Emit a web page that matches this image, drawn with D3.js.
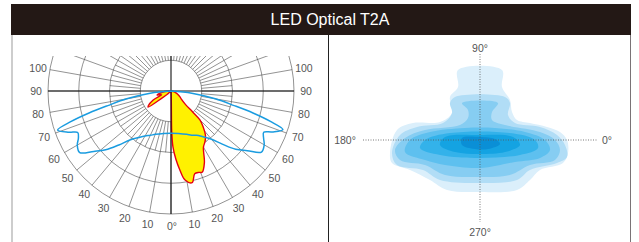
<!DOCTYPE html>
<html>
<head>
<meta charset="utf-8">
<script src="https://cdn.jsdelivr.net/npm/d3@7"></script>
<style>
body { margin: 0; background: #fff; }
svg { display: block; font-family: "Liberation Sans", Arial, sans-serif; }
</style>
</head>
<body>
<div id="wrapper"></div>
<script>
const title = "LED Optical T2A"

// polar curve, C0-C180 plane (blue) - angle from nadir (deg), intensity
const blueAngles = [-90, -84, -80, -77, -75, -73, -71, -68, -66, -63, -60, -56, -52, -48, -44, -40, -35, -30, -25, -20, -10, 0,
                    10, 20, 25, 30, 35, 40, 44, 48, 52, 56, 60, 63, 66, 68, 71, 73, 75, 77, 80, 84, 90]
const blueValues = [0, 68, 146, 211, 276, 341, 390, 358, 332, 338, 352, 358, 319, 286, 244, 208, 185, 169, 159, 150, 140, 137,
                    140, 150, 159, 166, 182, 205, 240, 283, 315, 355, 350, 338, 330, 355, 385, 338, 276, 211, 146, 68, 0]

// polar curve, C90-C270 plane (red outline, yellow fill)
const redAngles = [-90, -85, -80, -74, -68, -63, -57, -55, -52, -48, -40, -20, -1, 1, 2, 4, 6.5, 9, 13, 16, 19, 21, 25, 30, 34, 38, 42, 45, 46, 47, 52, 56, 65, 75, 90]
const redValues = [0, 20, 33, 47, 33, 65, 88, 91, 36, 16, 3, 2, 3, 130, 182, 221, 260, 293, 306, 280, 280, 283, 257, 211, 198, 182, 156, 133, 98, 65, 42, 36, 23, 13, 0]

const ringValues = [100, 200, 300, 400]
const leftLabels = [100, 90, 80, 70, 60, 50, 40, 30, 20, 10]

// isolux plot (right panel): nested contour polygons, outer to inner
const isoColors = ["#dbeffb", "#b1ddf6", "#86cdf2", "#5ec0ef", "#33b2ea", "#14a3e2", "#0a8fd6"]
const isoContours = [
    [[-22,70],[22,70],[22,53],[30,40],[32,28],[37,20],[50,17],[67,13],[80,8],[87,0],[88,-13],[83,-23],[60,-30],[50,-40],[37,-50],[0,-52],[-33,-50],[-50,-40],[-70,-30],[-88,-23],[-90,-13],[-83,10],[-67,17],[-40,18],[-28,27],[-30,43],[-22,53]],
    [[-25,43],[25,43],[30,37],[28,25],[35,17],[60,13],[77,5],[85,-5],[87,-17],[77,-23],[50,-30],[37,-40],[0,-43],[-40,-40],[-57,-30],[-83,-25],[-88,-13],[-80,5],[-63,13],[-37,17],[-28,27],[-30,37]],
    [[-18,37],[18,37],[12,28],[12,20],[25,15],[60,8],[75,0],[80,-10],[75,-20],[50,-25],[30,-35],[0,-37],[-35,-35],[-55,-25],[-80,-20],[-85,-10],[-75,2],[-55,10],[-20,15],[-12,22],[-12,30]],
    [[-15,12],[15,12],[45,8],[65,0],[70,-10],[60,-18],[35,-22],[0,-28],[-35,-25],[-55,-20],[-75,-12],[-70,0],[-50,8]],
    [[-30,7],[30,7],[55,0],[58,-8],[40,-15],[0,-18],[-40,-15],[-60,-8],[-55,0]],
    [[-35,3],[0,5],[33,3],[40,-5],[25,-12],[0,-14],[-25,-12],[-40,-5]],
    [[-18,2],[0,3],[15,1],[20,-4],[8,-9],[-5,-9],[-18,-5]]
]
const isoLabels = [
    {text: "90°", x: 0, y: 92},
    {text: "180°", x: -135, y: 0},
    {text: "0°", x: 127, y: 0},
    {text: "270°", x: 0, y: -92}
]

const width = 639
const height = 242

const svg = d3.select("#wrapper")
    .append("svg")
    .attr("width", width)
    .attr("height", height)

// header
svg.append("rect")
    .attr("x", 11).attr("y", 4)
    .attr("width", 620).attr("height", 31)
    .attr("fill", "#231815")
svg.append("text")
    .attr("x", 330).attr("y", 25)
    .attr("text-anchor", "middle")
    .attr("fill", "#fff")
    .attr("font-size", "16px")
    .text(title)

// panel borders
svg.append("line").attr("x1", 12).attr("x2", 12).attr("y1", 35).attr("y2", height)
    .attr("stroke", "#bdbdbd").attr("stroke-width", 1.5)
svg.append("line").attr("x1", 630.5).attr("x2", 630.5).attr("y1", 35).attr("y2", height)
    .attr("stroke", "#7a7376").attr("stroke-width", 1)
svg.append("line").attr("x1", 328.5).attr("x2", 328.5).attr("y1", 35).attr("y2", height)
    .attr("stroke", "#222").attr("stroke-width", 1)

// ---------- polar diagram ----------
const cx = 171, cy = 91
const rScale = d3.scaleLinear().domain([0, 400]).range([0, 123])
// angle from nadir, positive to the right -> d3 radial angle
const aScale = d3.scaleLinear().domain([-180, 180]).range([2 * Math.PI, 0])

const polar = svg.append("g").attr("transform", `translate(${cx},${cy})`)

svg.append("clipPath").attr("id", "gridClip")
    .append("rect").attr("x", -130).attr("y", 56 - cy).attr("width", 260).attr("height", 200)

const grid = polar.append("g").attr("clip-path", "url(#gridClip)")
    .attr("stroke", "#4a4a4a").attr("stroke-width", 0.6).attr("fill", "none")

grid.selectAll("circle")
    .data(ringValues)
    .join("circle")
    .attr("r", d => rScale(d))

const spoke = (a, r0, r1) => d3.lineRadial()([[aScale(a), rScale(r0)], [aScale(a), rScale(r1)]])
grid.selectAll(".fine")
    .data(d3.range(-180, 180, 5))
    .join("path")
    .attr("d", a => spoke(a, 100, 200))
grid.selectAll(".coarse")
    .data(d3.range(-180, 180, 10))
    .join("path")
    .attr("d", a => spoke(a, 200, 400))

const curve = (angles, values) => d3.lineRadial()
    .angle(i => aScale(angles[i]))
    .radius(i => rScale(values[i]))
    .curve(d3.curveCatmullRom)(d3.range(angles.length))

polar.append("path")
    .attr("d", curve(redAngles, redValues) + "Z")
    .attr("fill", "#fff100")
    .attr("stroke", "#e60012")
    .attr("stroke-width", 1.4)
    .attr("stroke-linejoin", "round")

// main axes
polar.append("line")
    .attr("x1", -rScale(400)).attr("x2", rScale(400))
    .attr("stroke", "#111").attr("stroke-width", 1.1)
polar.append("line")
    .attr("y1", 56 - cy).attr("y2", rScale(400))
    .attr("stroke", "#111").attr("stroke-width", 1.1)

polar.append("path")
    .attr("d", curve(blueAngles, blueValues))
    .attr("fill", "none")
    .attr("stroke", "#1a9ce0")
    .attr("stroke-width", 1.5)

const labelR = 135
const lbl = polar.append("g").attr("fill", "#555").attr("font-size", "10.5px").attr("text-anchor", "middle")
lbl.selectAll(".l").data(leftLabels).join("text")
    .attr("x", d => -labelR * Math.sin(d * Math.PI / 180))
    .attr("y", d => -labelR * Math.cos(d * Math.PI / 180) * -1 + 4)
    .text(d => d)
lbl.selectAll(".r").data(leftLabels).join("text")
    .attr("x", d => labelR * Math.sin(d * Math.PI / 180))
    .attr("y", d => labelR * Math.cos(d * Math.PI / 180) + 4)
    .text(d => d)
lbl.append("text").attr("x", 1).attr("y", labelR + 4).text("0°")

// ---------- isolux diagram ----------
const ix = d3.scaleLinear().domain([-120, 120]).range([360, 600])
const iy = d3.scaleLinear().domain([-100, 100]).range([240, 40])

const iso = svg.append("g")
const isoLine = d3.line().x(d => ix(d[0])).y(d => iy(d[1])).curve(d3.curveCatmullRomClosed)
iso.selectAll("path")
    .data(isoContours)
    .join("path")
    .attr("d", isoLine)
    .attr("fill", (d, i) => isoColors[i])

iso.append("line")
    .attr("x1", ix(-117)).attr("x2", ix(117)).attr("y1", iy(0)).attr("y2", iy(0))
    .attr("stroke", "#555").attr("stroke-width", 0.8).attr("stroke-dasharray", "1,1.5")
iso.append("line")
    .attr("x1", ix(0)).attr("x2", ix(0)).attr("y1", iy(86)).attr("y2", iy(-82))
    .attr("stroke", "#555").attr("stroke-width", 0.8).attr("stroke-dasharray", "1,1.5")

iso.selectAll("text")
    .data(isoLabels)
    .join("text")
    .attr("x", d => ix(d.x))
    .attr("y", d => iy(d.y) + 4)
    .attr("text-anchor", "middle")
    .attr("fill", "#555")
    .attr("font-size", "10.5px")
    .text(d => d.text)
</script>
</body>
</html>
